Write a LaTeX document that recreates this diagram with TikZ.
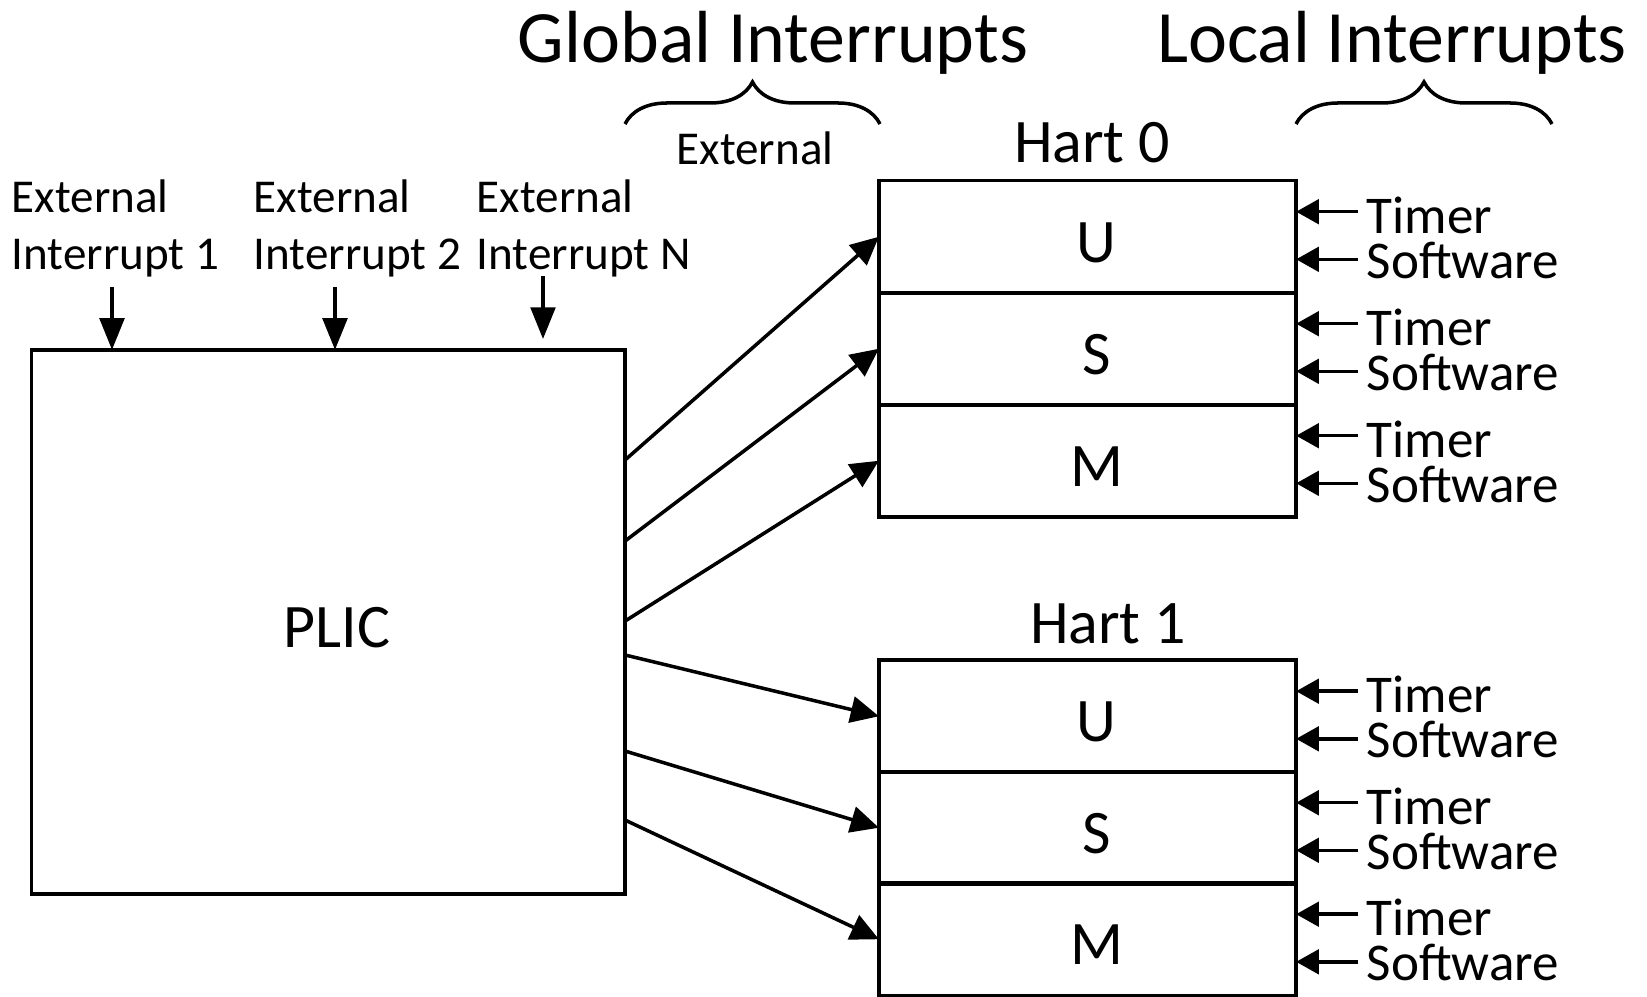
\documentclass[tikz,border=0pt]{standalone}
\usepackage{fontspec}
\setmainfont{Carlito}
\usetikzlibrary{arrows.meta,decorations.pathreplacing,calc}
\begin{document}
\begin{tikzpicture}[x=0.01cm,y=-0.01cm,
  line width=1pt,
  box/.style={draw, line width=1pt, inner sep=0, outer sep=0,
    font=\fontsize{17.6}{20}\selectfont, text height=14.5pt, text depth=0pt,
    execute at begin node={\hspace*{0.18cm}}},
  cell/.style={box, minimum width=4.17cm, minimum height=1.12cm},
  arr/.style={-{Triangle[length=8pt,width=7.5pt]}, line width=1pt},
  darr/.style={-{Triangle[length=9pt,width=7pt]}, line width=1pt},
  sarr/.style={-{Triangle[length=6.5pt,width=7pt]}, line width=1pt},
  big/.style={inner sep=0, font=\fontsize{21}{25}\selectfont},
  mid/.style={inner sep=0, font=\fontsize{17.6}{21}\selectfont},
  lbl/.style={inner sep=0, font=\fontsize{15.1}{18}\selectfont},
  ext/.style={inner sep=0, font=\fontsize{13.4}{16.3}\selectfont, align=left},
  brc/.style={decorate, decoration={brace, amplitude=0.42cm}, line width=1pt}
]
\useasboundingbox (0,0) rectangle (1647,997);

% PLIC
\node[box, minimum width=5.935cm, minimum height=5.44cm] (plic) at (328.25,622) {PLIC};

% Harts
\node[cell] (u0) at (1087.5,236.75) {U};
\node[cell] (s0) at (1087.5,348.75) {S};
\node[cell] (m0) at (1087.5,460.75) {M};
\node[cell] (u1) at (1087.5,716.25) {U};
\node[cell] (s1) at (1087.5,827.75) {S};
\node[cell] (m1) at (1087.5,939.25) {M};
\node[mid, anchor=base] (h0) at (1092,163) {Hart 0};
\node[mid, anchor=base] (h1) at (1108,644) {Hart 1};

% local interrupts
\foreach \c in {u0,s0,m0,u1,s1,m1}{
  \node[lbl, anchor=base west] (\c-t) at ($(\c.north east)+(69,52.6)$) {Timer};
  \node[lbl, anchor=base west] (\c-w) at ($(\c.north east)+(69,97.3)$) {Software};
  \coordinate (\c-ta) at ($(\c-t.base west)+(-7,-21.6)$);
  \coordinate (\c-wa) at ($(\c-w.base west)+(-7,-18.7)$);
  \draw[sarr] (\c-ta) -- (\c-ta -| \c.east);
  \draw[sarr] (\c-wa) -- (\c-wa -| \c.east);
}

% titles and braces
\node[big, anchor=base] (gi) at (773,63) {Global Interrupts};
\node[big, anchor=base] (li) at (1392,63) {Local Interrupts};
\draw[brc] (625,124) -- (880,124);
\draw[brc] (1296,124) -- (1552,124);
\node[ext, anchor=base] (gx) at (755,165) {External};

% external interrupt sources
\node[ext, anchor=north west] (e1) at (10,178) {External\\Interrupt 1};
\node[ext, anchor=north west] (e2) at (252,178) {External\\Interrupt 2};
\node[ext, anchor=north west] (e3) at (475,178) {External\\Interrupt N};
\coordinate (i1) at (112,287);
\coordinate (i2) at (335,287);
\coordinate (i3) at (543,276);
\coordinate (i3e) at (543,339);
\draw[darr] (i1) -- (i1 |- plic.north);
\draw[darr] (i2) -- (i2 |- plic.north);
\draw[darr] (i3) -- (i3e);

% PLIC to harts
\draw[arr] ([yshift=-1.10cm]plic.north east) -- (u0.west);
\draw[arr] ([yshift=-1.91cm]plic.north east) -- (s0.west);
\draw[arr] ([yshift=-2.71cm]plic.north east) -- (m0.west);
\draw[arr] ([yshift=-3.05cm]plic.north east) -- (u1.west);
\draw[arr] ([yshift=-4.01cm]plic.north east) -- (s1.west);
\draw[arr] ([yshift=-4.70cm]plic.north east) -- (m1.west);
\end{tikzpicture}
\end{document}
